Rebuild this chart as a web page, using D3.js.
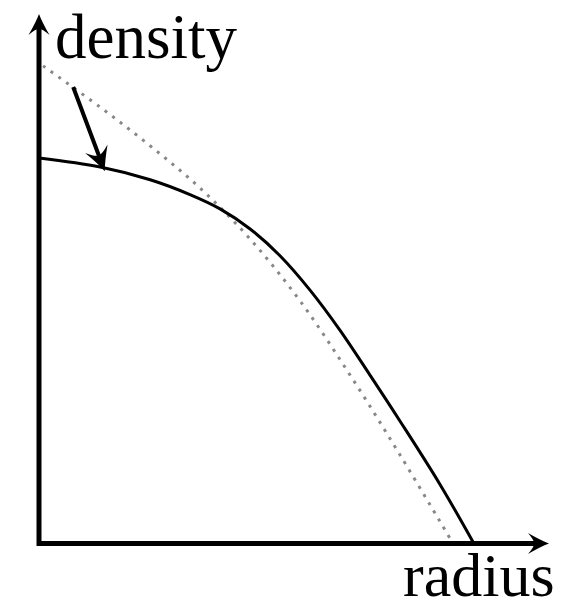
<!DOCTYPE html>
<html>
<head>
  <meta charset="utf-8">
  <title>density vs radius</title>
  <script src="https://cdn.jsdelivr.net/npm/d3@7"></script>
  <style>
    body { margin: 0; background: #fff; }
    text { font-family: "Liberation Serif", "Times New Roman", serif; }
  </style>
</head>
<body>
  <script>
    const width = 565, height = 605;

    // cusped profile (dotted)
    const cuspRadius = [0.008, 0.120, 0.218, 0.316, 0.414, 0.512, 0.610, 0.708, 0.810]
    const cuspDensity = [0.902, 0.824, 0.751, 0.671, 0.575, 0.458, 0.318, 0.167, 0.003]

    // cored profile (solid)
    const coreRadius = [0.000, 0.120, 0.218, 0.296, 0.355, 0.414, 0.473, 0.531, 0.590, 0.649, 0.708, 0.786, 0.851]
    const coreDensity = [0.728, 0.711, 0.687, 0.659, 0.632, 0.594, 0.543, 0.479, 0.403, 0.318, 0.231, 0.112, 0.003]

    // annotation arrow: start and end (radius, density)
    const arrowFrom = [0.067, 0.862]
    const arrowTo = [0.129, 0.703]

    const axisLabels = { x: 'radius', y: 'density' }

    const svg = d3.select('body').append('svg')
      .attr('width', width)
      .attr('height', height)

    const x = d3.scaleLinear().domain([0, 1]).range([39, 549])
    const y = d3.scaleLinear().domain([0, 1]).range([543.5, 14])

    // arrow head shape, tip at origin pointing to +x
    const headPath = (len, half) =>
      `M0,0 Q${-len * 0.4},${half * 0.3} ${-len},${half} Q${-len * 0.7},${half * 0.3} ${-len * 0.7},0 ` +
      `Q${-len * 0.7},${-half * 0.3} ${-len},${-half} Q${-len * 0.4},${-half * 0.3} 0,0 Z`

    function arrowHead(g, px, py, angle, len, half) {
      g.append('path')
        .attr('d', headPath(len, half))
        .attr('transform', `translate(${px},${py}) rotate(${angle})`)
        .attr('fill', '#000')
    }

    // axes
    const axes = svg.append('g')
    axes.append('path')
      .attr('d', `M${x(0)},${y(1) + 12} V${y(0)} H${x(1) - 12}`)
      .attr('fill', 'none')
      .attr('stroke', '#000')
      .attr('stroke-width', 5)
      .attr('stroke-linejoin', 'miter')
      .attr('stroke-linecap', 'square')
    arrowHead(axes, x(0), y(1), -90, 21, 10.5)
    arrowHead(axes, x(1), y(0), 0, 21, 10.5)

    const line = d3.line()
      .x(d => x(d[0]))
      .y(d => y(d[1]))
      .curve(d3.curveCatmullRom.alpha(0.5))

    svg.append('path')
      .datum(d3.zip(cuspRadius, cuspDensity))
      .attr('d', line)
      .attr('fill', 'none')
      .attr('stroke', '#888')
      .attr('stroke-width', 3)
      .attr('stroke-dasharray', '3 6.5')

    svg.append('path')
      .datum(d3.zip(coreRadius, coreDensity))
      .attr('d', line)
      .attr('fill', 'none')
      .attr('stroke', '#000')
      .attr('stroke-width', 3)

    // annotation arrow
    const ax0 = x(arrowFrom[0]), ay0 = y(arrowFrom[1])
    const ax1 = x(arrowTo[0]), ay1 = y(arrowTo[1])
    const ang = Math.atan2(ay1 - ay0, ax1 - ax0) * 180 / Math.PI
    const dl = Math.hypot(ax1 - ax0, ay1 - ay0)
    svg.append('line')
      .attr('x1', ax0).attr('y1', ay0)
      .attr('x2', ax0 + (ax1 - ax0) * (dl - 12) / dl)
      .attr('y2', ay0 + (ay1 - ay0) * (dl - 12) / dl)
      .attr('stroke', '#000')
      .attr('stroke-width', 4)
    arrowHead(svg, ax1, ay1, ang, 24, 12)

    // labels
    svg.append('text')
      .attr('x', 55)
      .attr('y', 58)
      .attr('font-size', 63)
      .text(axisLabels.y)

    svg.append('text')
      .attr('x', 403)
      .attr('y', 596)
      .attr('font-size', 62)
      .text(axisLabels.x)
  </script>
</body>
</html>
